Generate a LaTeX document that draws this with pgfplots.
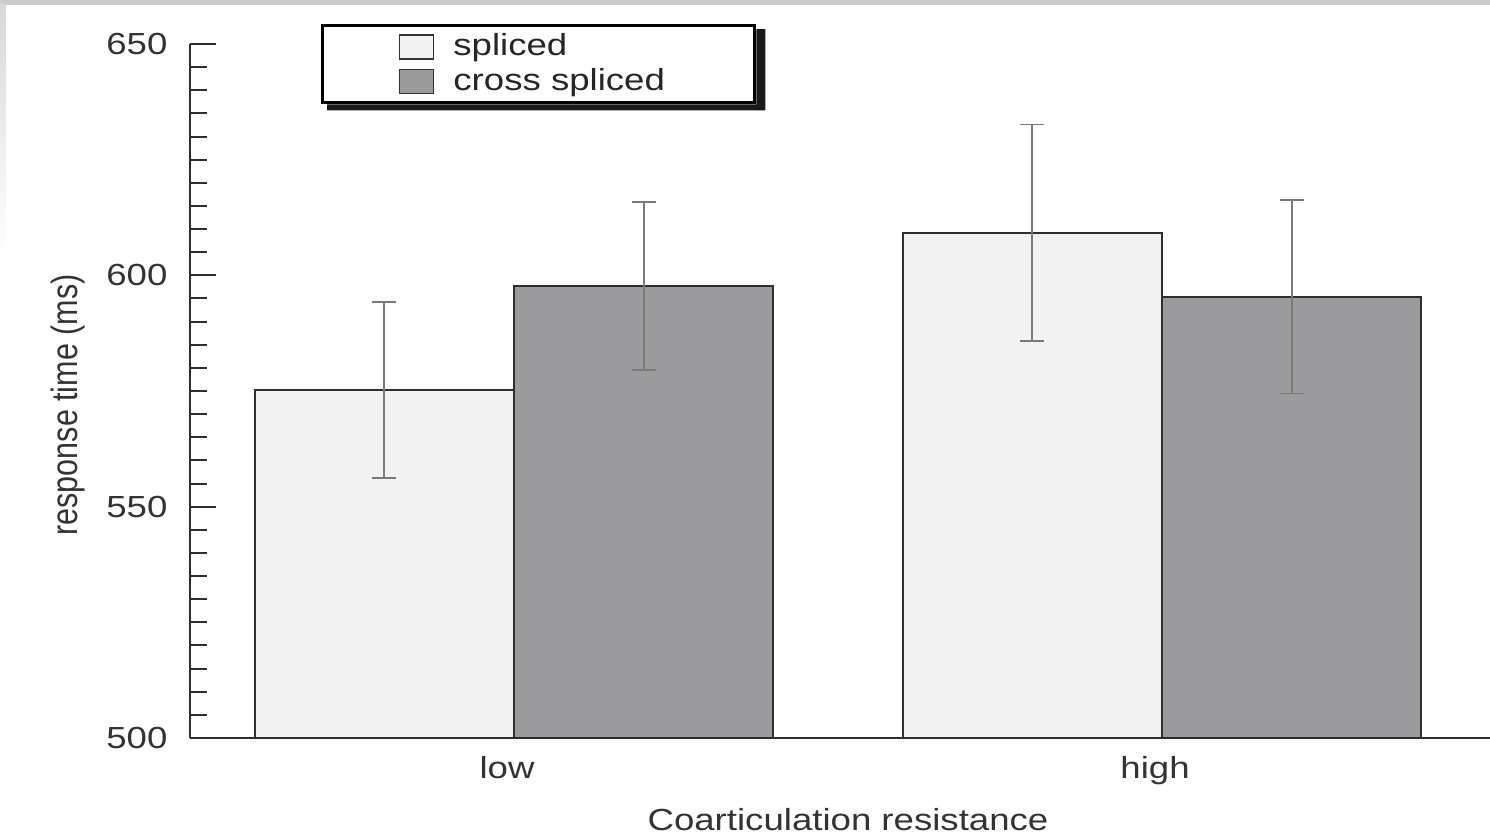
\documentclass[border=0pt]{standalone}
\usepackage{pgfplots}
\pgfplotsset{compat=1.18}
\usepackage{fontspec}
\setmainfont{Liberation Sans}[FakeStretch=1.2]
\newfontfamily\plainfont{Liberation Sans}
\usetikzlibrary{calc}
\definecolor{splicedc}{HTML}{F2F2F2}
\definecolor{crossc}{HTML}{9B9B9D}
\definecolor{edgec}{HTML}{2E2E2E}
\definecolor{errc}{HTML}{7A7A7A}
\begin{document}
\fontsize{15.25}{18}\selectfont
\begin{tikzpicture}
\path[use as bounding box] (-95pt,-49.5pt) rectangle (650pt,369pt);
\fill[white] (-95pt,-49.5pt) rectangle (650pt,369pt);
\fill[black!20] (-95pt,366.5pt) rectangle (650pt,369pt);
\shade[top color=black!15, bottom color=white] (-95pt,240pt) rectangle (-92pt,366.5pt);
\begin{axis}[
  at={(0pt,0pt)}, anchor=south west,
  scale only axis, width=650pt, height=347pt,
  xmin=0.5, xmax=2.506, ymin=500, ymax=650,
  axis lines*=left,
  axis line style={line width=1pt, edgec},
  ybar=0pt, bar width=0.4,
  xtick={1,2}, xticklabels={low,high},
  xtick style={draw=none},
  ytick={500,550,600,650}, minor y tick num=9,
  tick align=inside,
  major tick length=13pt, minor tick length=8.5pt,
  ytick style={line width=1pt, edgec},
  /pgf/number format/assume math mode=true,
  yticklabel style={xshift=-6pt, text=black!80},
  xticklabel style={text=black!80, yshift=-4pt, xshift=-3.5pt},
  xlabel={Coarticulation resistance},
  xlabel style={xshift=4pt, yshift=-1.5pt, text=black!80},
  ylabel={\plainfont\scalebox{1}[1.2]{response time (ms)}},
  ylabel style={at={(axis description cs:-0.0938,0.48)}, anchor=center, text=black!80},
  legend style={name=leg, at={(axis description cs:0.1008,1.0288)}, anchor=north west,
    draw=black, line width=1.5pt, fill=white,
    inner xsep=38pt, inner ysep=2pt,
    text=black!85},
  legend cell align=left,
]
\addplot[fill=splicedc, draw=edgec, line width=1pt,
  error bars/.cd, y dir=both, y explicit,
  error bar style={line width=1pt, draw=errc},
  error mark options={line width=0.8pt, mark size=6pt, draw=errc, rotate=90},
  /pgfplots/legend image code/.code={\filldraw[fill=splicedc, draw=black!80, line width=0.9pt] (0pt,-6pt) rectangle (17pt,6pt); \path[draw=none,fill=none] (0pt,0pt) (25pt,0pt);}]
  coordinates {(1,575.2) +- (0,19.0) (2,609.2) +- (0,23.4)};
\addplot[fill=crossc, draw=edgec, line width=1pt,
  error bars/.cd, y dir=both, y explicit,
  error bar style={line width=1pt, draw=errc},
  error mark options={line width=0.8pt, mark size=6pt, draw=errc, rotate=90},
  /pgfplots/legend image code/.code={\filldraw[fill=crossc, draw=black!80, line width=0.9pt] (0pt,-6pt) rectangle (17pt,6pt); \path[draw=none,fill=none] (0pt,0pt) (25pt,0pt);}]
  coordinates {(1,597.7) +- (0,18.2) (2,595.4) +- (0,20.9)};
\legend{spliced, cross spliced\hspace*{5pt}}
\end{axis}
\fill[black!90] ($(leg.north east)+(0pt,-2.5pt)$) -- ++(4.5pt,0pt)
  -- ($(leg.south east)+(4.5pt,-3pt)$) -- ($(leg.south west)+(3pt,-3pt)$)
  -- ($(leg.south west)+(3pt,0pt)$) -- (leg.south east) -- cycle;
\end{tikzpicture}
\end{document}
